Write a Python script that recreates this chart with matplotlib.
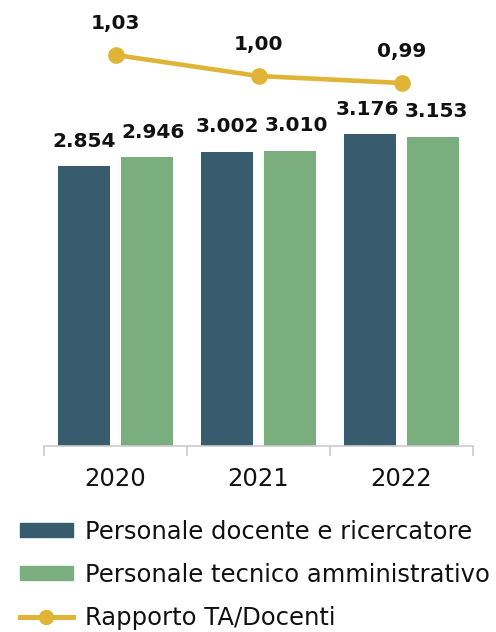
import matplotlib
matplotlib.use("Agg")
import matplotlib.pyplot as plt
import numpy as np
from matplotlib.patches import Patch
from matplotlib.lines import Line2D

years = ["2020", "2021", "2022"]
docenti = [2854, 3002, 3176]
tecnici = [2946, 3010, 3153]
rapporto = [1.03, 1.00, 0.99]
docenti_labels = ["2.854", "3.002", "3.176"]
tecnici_labels = ["2.946", "3.010", "3.153"]
rapporto_labels = ["1,03", "1,00", "0,99"]
legend_labels = ["Personale docente e ricercatore",
                 "Personale tecnico amministrativo",
                 "Rapporto TA/Docenti"]

c_dark = "#365c6e"
c_green = "#7aae7f"
c_gold = "#dfb437"

plt.rcParams['font.family'] = ['DejaVu Sans']

fig = plt.figure(figsize=(4.96, 6.32), dpi=100)
ax = fig.add_axes([44 / 496, (632 - 446) / 632, 429 / 496, 446 / 632])

x = np.arange(len(years))
w = 0.364
off = 0.217
b1 = ax.bar(x - off, docenti, w, color=c_dark)
b2 = ax.bar(x + off, tecnici, w, color=c_green)
ax.set_xlim(-0.5, 2.5)
ax.set_ylim(0, 446 / 0.0981)

# small horizontal nudges (points) so adjacent labels don't collide
dark_dx = [0, 0, -2]
green_dx = [5, 5, 3]
for rect, lab, dx in zip(b1, docenti_labels, dark_dx):
    ax.annotate(lab, (rect.get_x() + rect.get_width() / 2, rect.get_height()),
                xytext=(dx, 11), textcoords="offset points", ha="center", va="bottom",
                fontsize=14.5, fontweight="bold", color="#111111")
for rect, lab, dx in zip(b2, tecnici_labels, green_dx):
    ax.annotate(lab, (rect.get_x() + rect.get_width() / 2, rect.get_height()),
                xytext=(dx, 11), textcoords="offset points", ha="center", va="bottom",
                fontsize=14.5, fontweight="bold", color="#111111")

ax2 = ax.twinx()
ax2.set_ylim(1.00 - 370 / 700, 1.00 + 76 / 700)
ax2.plot(x, rapporto, color=c_gold, lw=3.3, marker="o", ms=11)
for xi, v, lab in zip(x, rapporto, rapporto_labels):
    ax2.annotate(lab, (xi, v), xytext=(0, 16), textcoords="offset points",
                 ha="center", va="bottom", fontsize=14.5, fontweight="bold", color="#111111")

for a in (ax, ax2):
    for s in ["top", "right", "left"]:
        a.spines[s].set_visible(False)
    a.set_yticks([])
ax2.spines["bottom"].set_visible(False)
ax.spines["bottom"].set_color("#cccccc")
ax.spines["bottom"].set_linewidth(1.2)

ax.set_xticks([-0.5, 0.5, 1.5, 2.5], minor=False)
ax.set_xticklabels([])
ax.tick_params(axis="x", which="major", length=7, color="#cccccc", width=1.2)
ax.set_xticks(x, minor=True)
ax.set_xticklabels(years, minor=True, fontsize=17.5, color="#111111")
ax.tick_params(axis="x", which="minor", length=0, pad=15)

handles = [Patch(color=c_dark), Patch(color=c_green),
           Line2D([0], [0], color=c_gold, lw=3.6, marker="o", ms=10)]
fig.legend(handles, legend_labels, loc="upper left",
           bbox_to_anchor=(10 / 496, 1 - 510 / 632), frameon=False,
           fontsize=17.5, handlelength=2.2, handleheight=0.55,
           handletextpad=0.5, labelspacing=0.78, borderaxespad=0,
           labelcolor="#111111")

fig.savefig("out.png", dpi=100)
